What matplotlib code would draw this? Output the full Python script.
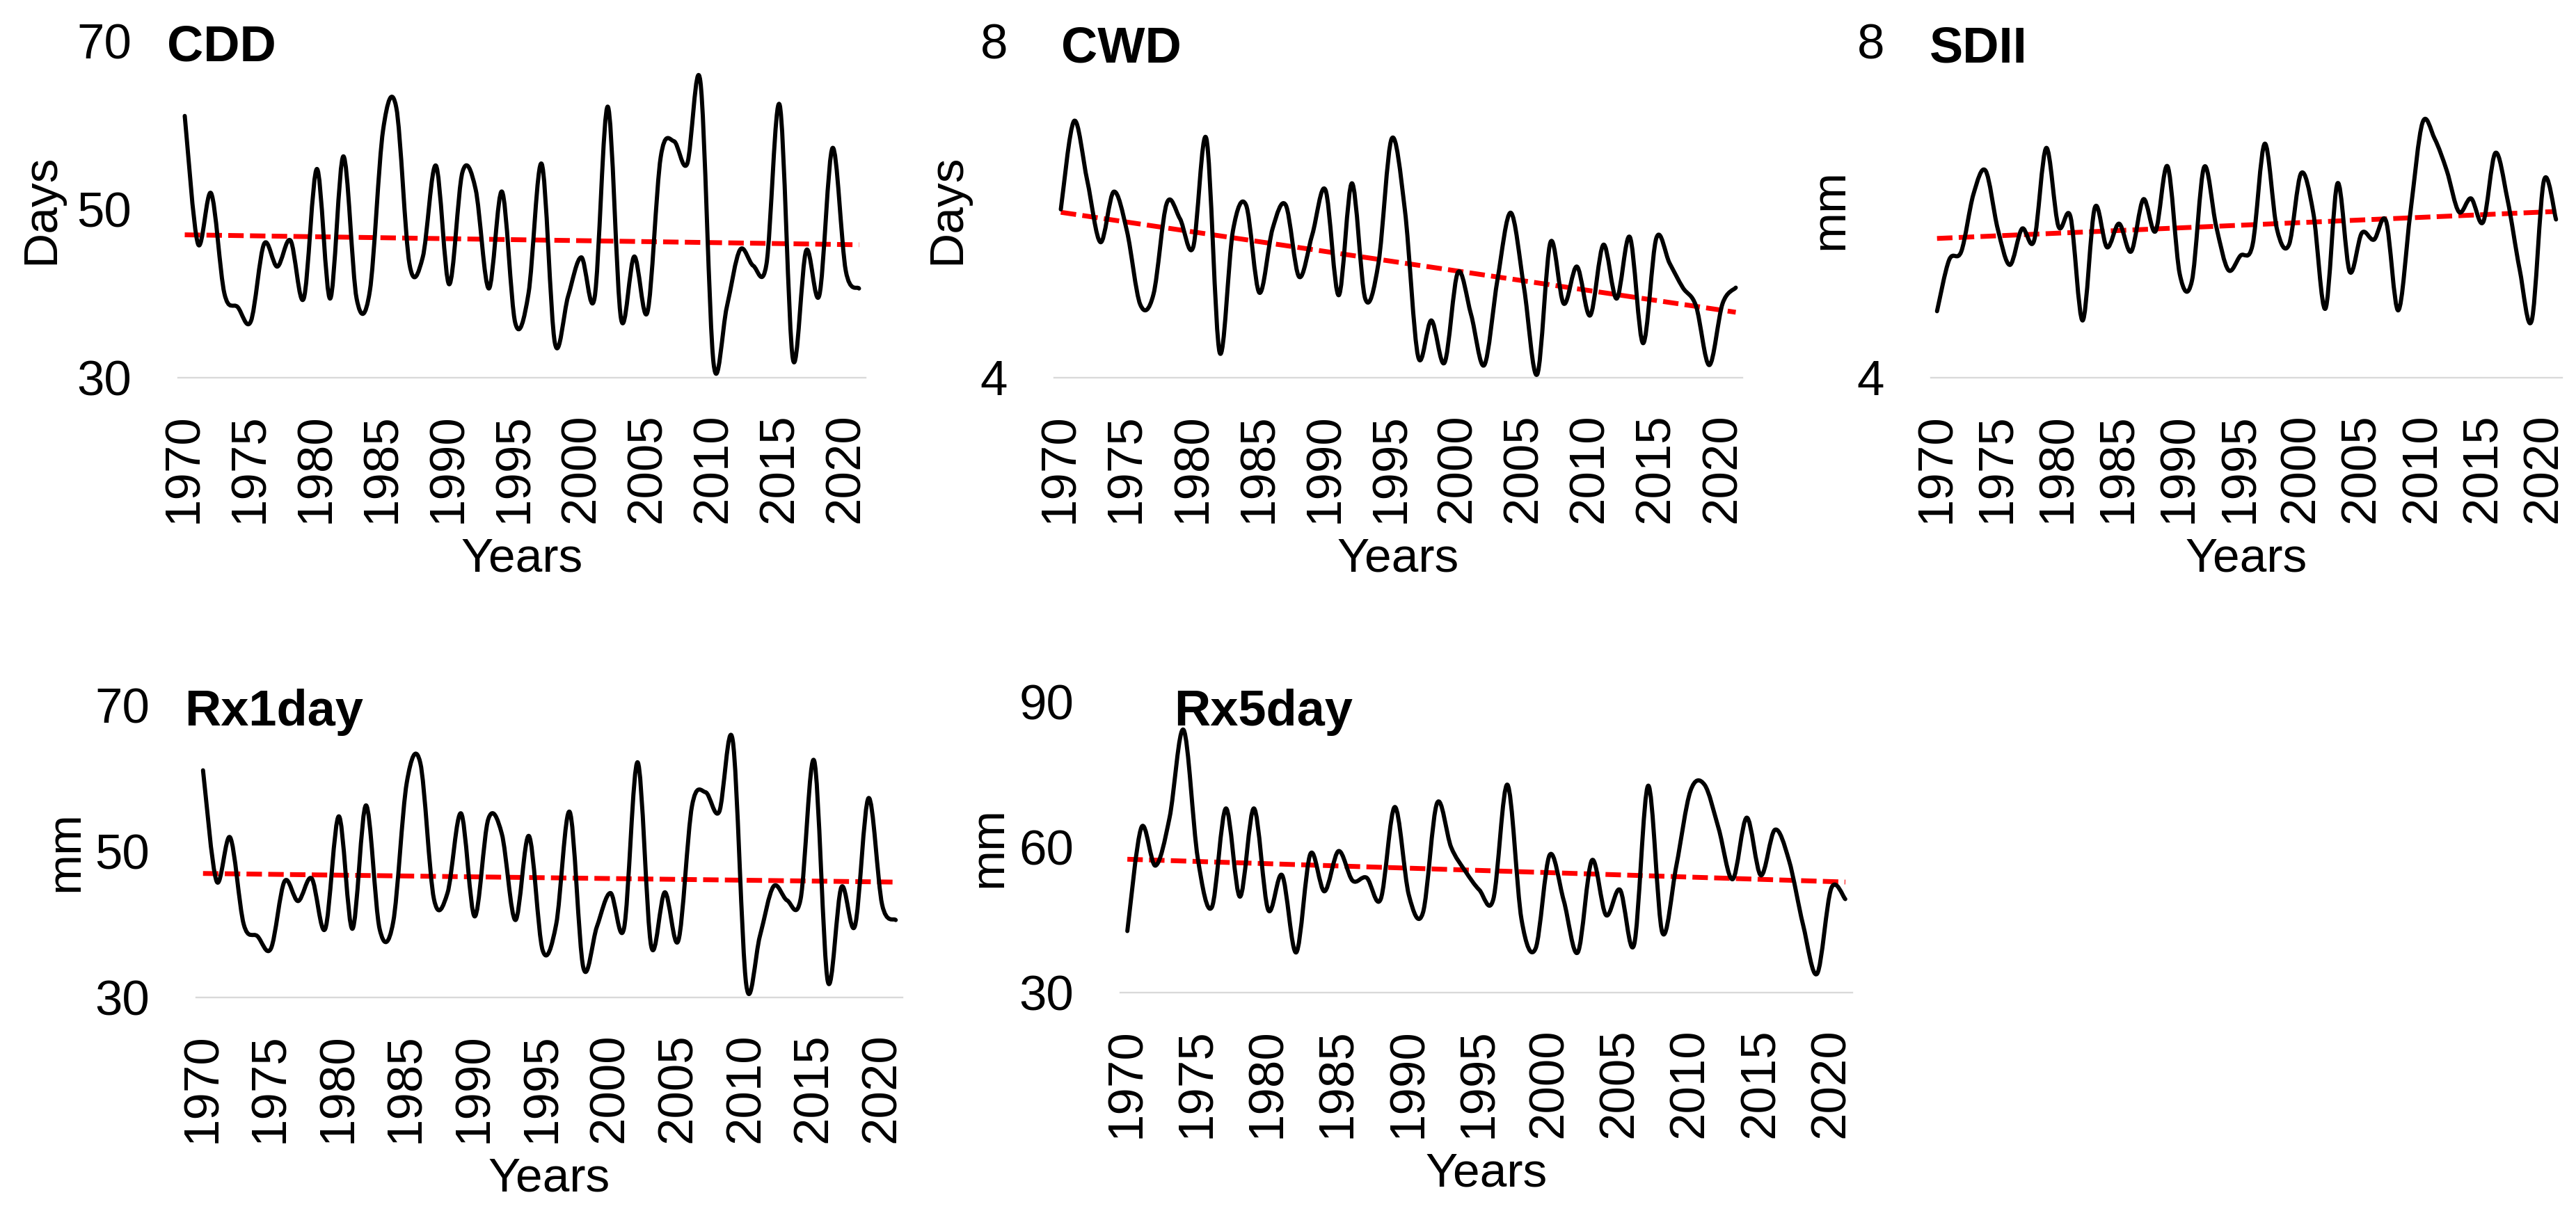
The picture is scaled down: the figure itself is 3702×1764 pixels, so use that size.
import matplotlib
matplotlib.use("Agg")
import matplotlib.pyplot as plt
import numpy as np
from matplotlib.path import Path
from matplotlib.patches import PathPatch

years = np.arange(1970, 2022)

cdd = [61.1, 45.9, 51.9, 40.0, 38.4, 36.7, 45.9, 43.2, 46.3, 39.4,
       54.8, 39.4, 56.3, 39.4, 40.3, 59.4, 62.1, 43.5, 44.3, 55.2,
       41.1, 54.4, 52.4, 40.6, 52.1, 36.5, 40.0, 55.4, 34.1, 39.7,
       44.3, 39.5, 62.2, 37.0, 44.4, 37.8, 56.2, 58.1, 55.4, 65.2,
       31.7, 38.4, 45.2, 43.3, 43.5, 62.4, 32.2, 45.1, 39.8, 57.3,
       42.7, 40.6]

cwd = [6.00, 7.05, 6.34, 5.61, 6.21, 5.74, 4.87, 4.99, 6.07, 5.89,
       5.55, 6.84, 4.30, 5.74, 6.05, 5.01, 5.77, 6.05, 5.20, 5.70,
       6.23, 4.98, 6.31, 4.94, 5.36, 6.84, 5.99, 4.25, 4.68, 4.18,
       5.25, 4.75, 4.15, 5.17, 5.96, 5.07, 4.04, 5.61, 4.88, 5.32,
       4.74, 5.58, 4.94, 5.67, 4.41, 5.66, 5.36, 5.07, 4.85, 4.15,
       4.88, 5.07]

sdii = [4.79, 5.40, 5.50, 6.18, 6.46, 5.77, 5.34, 5.77, 5.63, 6.73,
        5.80, 5.91, 4.68, 6.02, 5.55, 5.83, 5.50, 6.12, 5.74, 6.51,
        5.23, 5.15, 6.50, 5.80, 5.28, 5.45, 5.58, 6.78, 5.77, 5.58,
        6.43, 5.96, 4.82, 6.31, 5.26, 5.72, 5.64, 5.86, 4.80, 5.96,
        7.03, 6.84, 6.46, 5.97, 6.13, 5.85, 6.67, 6.12, 5.29, 4.68,
        6.34, 5.88]

rx1day = list(cdd)

rx5day = [42.7, 64.1, 56.2, 66.1, 84.2, 57.8, 47.6, 68.0, 49.8, 68.0,
          47.1, 54.2, 38.3, 58.6, 50.9, 59.2, 53.1, 53.7, 49.3, 68.3,
          50.1, 46.5, 69.1, 60.0, 55.1, 51.2, 49.3, 72.9, 45.1, 39.1,
          58.4, 49.0, 38.3, 57.3, 46.0, 51.2, 39.9, 72.7, 42.4, 56.2,
          71.6, 72.9, 63.9, 53.4, 66.1, 54.2, 63.6, 57.3, 44.0, 33.9,
          51.5, 49.3]

xticks = list(range(1970, 2021, 5))

plt.rcParams.update({'font.family': ['Liberation Sans', 'DejaVu Sans'], 'font.size': 50})

W, H = 3702, 1764
fig = plt.figure(figsize=(W / 100, H / 100), dpi=100)


def box(l, r, t, b):
    return [l / W, 1 - b / H, (r - l) / W, (b - t) / H]


def smooth_path(x, y):
    # excel-like smoothed line (catmull-rom as bezier)
    x = np.asarray(x, float)
    y = np.asarray(y, float)
    n = len(x)
    verts = [(x[0], y[0])]
    codes = [Path.MOVETO]
    for i in range(n - 1):
        xa, ya = (x[i - 1], y[i - 1]) if i > 0 else (x[i], y[i])
        xb, yb = (x[i + 2], y[i + 2]) if i + 2 < n else (x[i + 1], y[i + 1])
        c1 = (x[i] + (x[i + 1] - xa) / 6, y[i] + (y[i + 1] - ya) / 6)
        c2 = (x[i + 1] - (xb - x[i]) / 6, y[i + 1] - (yb - y[i]) / 6)
        verts += [c1, c2, (x[i + 1], y[i + 1])]
        codes += [Path.CURVE4] * 3
    return Path(verts, codes)


# values, title, ylabel, ylim, yticks, axes box (px), title pos (px), labelpad
panels = [
    (cdd, "CDD", "Days", (30, 70), [30, 50, 70], (256, 1244, 59, 543), (240, 88), 14),
    (cwd, "CWD", "Days", (4, 8), [4, 8], (1515, 2504, 59, 543), (1525, 90), 11),
    (sdii, "SDII", "mm", (4, 8), [4, 8], (2775, 3682, 59, 543), (2773, 90), 5),
    (rx1day, "Rx1day", "mm", (30, 70), [30, 50, 70], (282, 1297, 1014, 1434), (265, 1043), 7),
    (rx5day, "Rx5day", "mm", (30, 90), [30, 60, 90], (1610, 2662, 1009, 1427), (1687, 1043), 8),
]

for vals, title, ylab, ylim, yt, bx, tpos, lp in panels:
    ax = fig.add_axes(box(*bx))
    ax.add_patch(PathPatch(smooth_path(years, vals), fill=False, edgecolor='black',
                           linewidth=4.3, capstyle='round', joinstyle='round', zorder=3))
    k, b = np.polyfit(years, vals, 1)
    ax.plot(years, k * years + b, color='red', linewidth=5, dashes=(3.2, 1.3), zorder=2)

    ax.set_xlim(1969.5, 2021.5)
    ax.set_ylim(*ylim)
    ax.set_xticks(xticks)
    ax.set_xticklabels([str(t) for t in xticks], rotation=90, fontsize=51)
    ax.set_yticks(yt)
    ax.set_yticklabels([str(t) for t in yt], fontsize=51)
    ax.tick_params(axis='y', length=0, pad=48)
    ax.tick_params(axis='x', length=0, pad=37)

    for s in ['top', 'right', 'left']:
        ax.spines[s].set_visible(False)
    ax.spines['bottom'].set_color('#d9d9d9')
    ax.spines['bottom'].set_linewidth(1.7)

    ax.set_xlabel("Years", fontsize=50, labelpad=14)
    ax.set_ylabel(ylab, fontsize=50, labelpad=lp)

    fig.text(tpos[0] / W, 1 - tpos[1] / H, title, fontsize=52, fontweight='bold',
             ha='left', va='baseline')

fig.savefig("out.png", dpi=100)
